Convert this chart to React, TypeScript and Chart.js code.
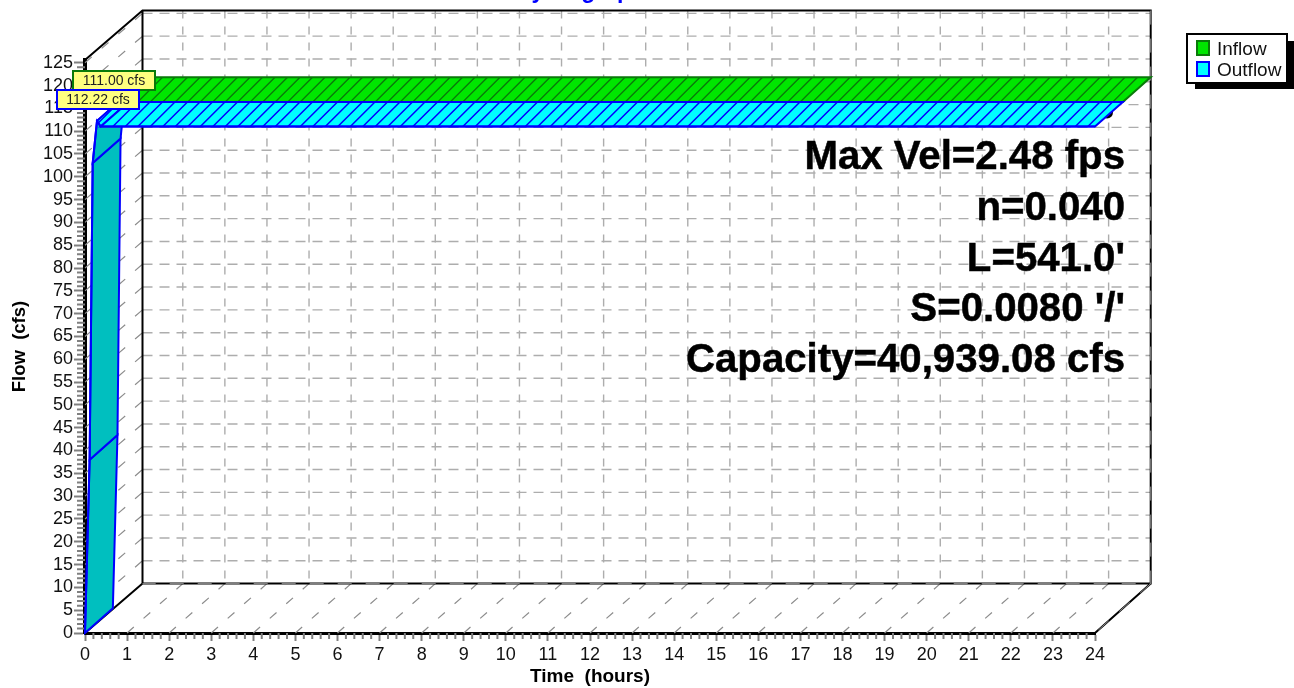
import React, { useEffect, useRef } from "react";
import { Chart, registerables } from "chart.js";

Chart.register(...registerables);

const inflowTimes = [0, 24];
const inflowValues = [111, 111];
const outflowTimes = [0, 0.11, 0.183, 0.285, 0.373, 24];
const outflowValues = [0, 38, 103, 112.22, 111, 111];
const notes = ["Max Vel=2.48 fps", "n=0.040", "L=541.0'", "S=0.0080 '/'", "Capacity=40,939.08 cfs"];
const peakLabels = ["111.00 cfs", "112.22 cfs"];
const legendNames = ["Inflow", "Outflow"];
const titleText = "Hydrograph";

const FONT = '"Liberation Sans", Arial, sans-serif';
const DX = 55.7;
const DY = -49.4;
const GRID = "#adadad";
const BLUE = "#0000ff";
const DKGREEN = "#0a7a0a";
const GREEN = "#00e600";
const CYAN = "#00ffff";
const TEAL = "#00bfbf";

const depths: Record<number, number> = { 0: 0.5, 1: 0 };

function tracePoly(ctx: CanvasRenderingContext2D, poly: number[][]) {
  ctx.beginPath();
  poly.forEach((p, i) => (i ? ctx.lineTo(p[0], p[1]) : ctx.moveTo(p[0], p[1])));
  ctx.closePath();
}

function hatchFill(ctx: CanvasRenderingContext2D, poly: number[][], fill: string, stroke: string) {
  ctx.save();
  tracePoly(ctx, poly);
  ctx.fillStyle = fill;
  ctx.fill();
  ctx.save();
  ctx.clip();
  const xs = poly.map((p) => p[0]);
  const ys = poly.map((p) => p[1]);
  const x0 = Math.min(...xs), x1 = Math.max(...xs), y0 = Math.min(...ys), y1 = Math.max(...ys);
  const h = y1 - y0;
  const step = 12.5;
  ctx.strokeStyle = stroke;
  ctx.lineWidth = 1.4;
  ctx.setLineDash([]);
  ctx.beginPath();
  for (let x = x0 - (x0 % step) - step - h; x < x1 + step; x += step) {
    ctx.moveTo(x, y1);
    ctx.lineTo(x + h, y0);
  }
  ctx.stroke();
  ctx.restore();
  tracePoly(ctx, poly);
  ctx.strokeStyle = stroke;
  ctx.lineWidth = 2;
  ctx.stroke();
  ctx.restore();
}

const chart3d = {
  id: "chart3d",
  beforeDatasetsDraw(chart: any) {
    const { ctx, scales } = chart;
    const xs = scales.x, ys = scales.y;
    const left = xs.getPixelForValue(0), right = xs.getPixelForValue(24);
    const bottom = ys.getPixelForValue(0), top = ys.getPixelForValue(ys.max);
    const backLeft = left + 57.5;
    const backRight = right + DX;
    const backBottom = bottom + DY;
    const backTop = top + DY;
    ctx.save();
    ctx.lineWidth = 1.4;
    ctx.strokeStyle = GRID;
    ctx.setLineDash([10, 7]);
    ctx.beginPath();
    for (let v = 5; v <= 125; v += 5) {
      const y = ys.getPixelForValue(v);
      ctx.moveTo(backLeft, y + DY);
      ctx.lineTo(backRight, y + DY);
    }
    ctx.stroke();
    ctx.setLineDash([8, 8]);
    ctx.beginPath();
    for (let t = 1; t <= 23; t++) {
      const x = xs.getPixelForValue(t) + DX;
      ctx.moveTo(x, backTop);
      ctx.lineTo(x, backBottom);
    }
    ctx.stroke();
    ctx.lineWidth = 1.2;
    ctx.strokeStyle = "#8c8c8c";
    ctx.setLineDash([9, 13]);
    ctx.beginPath();
    for (let v = 5; v <= 125; v += 5) {
      const y = ys.getPixelForValue(v);
      ctx.moveTo(left, y);
      ctx.lineTo(backLeft, y + DY);
    }
    for (let t = 1; t <= 23; t++) {
      const x = xs.getPixelForValue(t);
      ctx.moveTo(x, bottom);
      ctx.lineTo(x + DX, backBottom);
    }
    ctx.stroke();
    ctx.setLineDash([]);
    ctx.strokeStyle = "#000";
    ctx.lineWidth = 2;
    ctx.beginPath();
    ctx.moveTo(left, top);
    ctx.lineTo(backLeft, backTop);
    ctx.lineTo(backRight, backTop);
    ctx.lineTo(backRight, backBottom);
    ctx.lineTo(backLeft, backBottom);
    ctx.lineTo(left, bottom);
    ctx.moveTo(backLeft, backTop);
    ctx.lineTo(backLeft, backBottom);
    ctx.moveTo(backRight, backBottom);
    ctx.lineTo(right, bottom);
    ctx.stroke();
    ctx.strokeStyle = "#8c8c8c";
    ctx.lineWidth = 1;
    ctx.setLineDash([14, 14]);
    ctx.beginPath();
    ctx.moveTo(backRight, backTop);
    ctx.lineTo(backRight, backBottom);
    ctx.lineTo(backLeft, backBottom);
    ctx.moveTo(backRight, backBottom);
    ctx.lineTo(right, bottom);
    ctx.stroke();
    ctx.setLineDash([]);
    // small round mark behind the right end of the outflow ribbon
    ctx.fillStyle = "#000";
    ctx.beginPath();
    ctx.arc(right + 12, ys.getPixelForValue(111) - 14, 6, 0, Math.PI * 2);
    ctx.fill();

    // minor ticks
    ctx.strokeStyle = "#808080";
    ctx.lineWidth = 2;
    ctx.beginPath();
    for (let v = 0; v <= 125; v++) {
      if (v % 5 === 0) continue;
      const y = ys.getPixelForValue(v);
      ctx.moveTo(left - 8, y);
      ctx.lineTo(left, y);
    }
    for (let i = 0; i <= 120; i++) {
      if (i % 5 === 0) continue;
      const x = xs.getPixelForValue(i / 5);
      ctx.moveTo(x, bottom);
      ctx.lineTo(x, bottom + 6);
    }
    ctx.stroke();
    ctx.restore();
  },
  beforeDatasetDraw(chart: any, args: any) {
    const { ctx, scales } = chart;
    const xs = scales.x, ys = scales.y;
    const ds = chart.data.datasets[args.index];
    const d = depths[args.index];
    const ox = DX * d, oy = DY * d;
    // each ribbon is half of the box deep
    const rx = DX * 0.5, ry = DY * 0.5;
    const pts = ds.data.map((p: any) => [xs.getPixelForValue(p.x) + ox, ys.getPixelForValue(p.y) + oy]);
    ctx.save();
    for (let i = 0; i < pts.length - 1; i++) {
      const a = pts[i], b = pts[i + 1];
      if (ds.data[i + 1].y > ds.data[i].y) {
        tracePoly(ctx, [a, b, [b[0] + rx, b[1] + ry], [a[0] + rx, a[1] + ry]]);
        ctx.fillStyle = TEAL;
        ctx.fill();
        ctx.strokeStyle = BLUE;
        ctx.lineWidth = 2;
        ctx.stroke();
      }
    }
    for (let i = 0; i < pts.length - 1; i++) {
      const a = pts[i], b = pts[i + 1];
      if (ds.data[i + 1].y <= ds.data[i].y) {
        const poly = [a, b, [b[0] + rx, b[1] + ry], [a[0] + rx, a[1] + ry]];
        hatchFill(ctx, poly, args.index === 0 ? GREEN : CYAN, args.index === 0 ? DKGREEN : BLUE);
      }
    }
    ctx.restore();
    ctx.save();
    ctx.translate(ox, oy);
  },
  afterDatasetDraw(chart: any) {
    chart.ctx.restore();
  },
  afterDraw(chart: any) {
    const { ctx, scales } = chart;
    const xs = scales.x;
    const mid = (xs.getPixelForValue(0) + xs.getPixelForValue(24)) / 2;
    ctx.save();
    // title, cut by the top edge
    ctx.fillStyle = BLUE;
    ctx.font = `bold 23px ${FONT}`;
    ctx.textAlign = "center";
    ctx.textBaseline = "alphabetic";
    ctx.fillText(titleText, mid - 10, -2);

    // notes
    ctx.fillStyle = "#000";
    ctx.strokeStyle = "#000";
    ctx.lineWidth = 0.5;
    ctx.font = `bold 40.2px ${FONT}`;
    ctx.textAlign = "right";
    notes.forEach((n, i) => {
      ctx.fillText(n, 1125, 169 + i * 50.75);
      ctx.strokeText(n, 1125, 169 + i * 50.75);
    });

    // peak callouts
    const boxes = [
      { x: 73, y: 71, w: 82, h: 19, c: DKGREEN },
      { x: 57, y: 90, w: 82, h: 19, c: BLUE },
    ];
    ctx.font = `14px ${FONT}`;
    ctx.textAlign = "center";
    ctx.textBaseline = "middle";
    boxes.forEach((b, i) => {
      ctx.fillStyle = "#ffff80";
      ctx.fillRect(b.x, b.y, b.w, b.h);
      ctx.strokeStyle = b.c;
      ctx.lineWidth = 2;
      ctx.strokeRect(b.x, b.y, b.w, b.h);
      ctx.fillStyle = "#222";
      ctx.fillText(peakLabels[i], b.x + b.w / 2, b.y + b.h / 2 + 1);
    });

    // legend
    ctx.fillStyle = "#000";
    ctx.fillRect(1195, 41, 99, 48);
    ctx.fillStyle = "#fff";
    ctx.fillRect(1187, 34, 100, 49);
    ctx.strokeStyle = "#000";
    ctx.lineWidth = 2;
    ctx.strokeRect(1187, 34, 100, 49);
    const swatch = [
      { y: 41, f: GREEN, c: DKGREEN },
      { y: 62, f: CYAN, c: BLUE },
    ];
    ctx.font = `19px ${FONT}`;
    ctx.textAlign = "left";
    ctx.textBaseline = "alphabetic";
    swatch.forEach((s, i) => {
      ctx.fillStyle = s.f;
      ctx.fillRect(1197, s.y, 12, 14);
      ctx.strokeStyle = s.c;
      ctx.lineWidth = 2;
      ctx.strokeRect(1197, s.y, 12, 14);
      ctx.fillStyle = "#111";
      ctx.fillText(legendNames[i], 1217, s.y + 13.5);
    });
    ctx.restore();
  },
};

export default function App() {
  const ref = useRef<HTMLCanvasElement>(null);
  useEffect(() => {
    document.body.style.margin = "0";
    const chart = new Chart(ref.current as HTMLCanvasElement, {
      type: "line",
      data: {
        datasets: [
          {
            label: "Inflow",
            data: inflowTimes.map((t, i) => ({ x: t, y: inflowValues[i] })),
            borderColor: DKGREEN,
            borderWidth: 2,
            pointRadius: 0,
            clip: false,
            order: 1,
          },
          {
            label: "Outflow",
            data: outflowTimes.map((t, i) => ({ x: t, y: outflowValues[i] })),
            borderColor: BLUE,
            borderWidth: 2,
            pointRadius: 0,
            clip: false,
            order: 0,
          },
        ],
      },
      options: {
        animation: false,
        responsive: false,
        layout: { padding: { top: 60, right: 199, left: 0, bottom: 0 } },
        plugins: { legend: { display: false }, tooltip: { enabled: false } },
        scales: {
          x: {
            type: "linear",
            min: 0,
            max: 24,
            afterFit: (s: any) => { s.height = 55; },
            border: { color: "#000", width: 3 },
            grid: { drawOnChartArea: false, drawTicks: true, tickLength: 8, tickColor: "#808080", tickWidth: 2 },
            ticks: { stepSize: 1, autoSkip: false, maxRotation: 0, color: "#111", padding: 3, font: { family: FONT, size: 18 } },
            title: { display: true, text: "Time  (hours)", color: "#000", padding: { top: 0, bottom: 0 }, font: { family: FONT, size: 19, weight: "bold" } },
          },
          y: {
            type: "linear",
            min: 0,
            max: 125.6,
            afterFit: (s: any) => { s.width = 85; },
            border: { color: "#000", width: 4 },
            grid: { drawOnChartArea: false, drawTicks: true, tickLength: 11, tickColor: "#808080", tickWidth: 2 },
            ticks: { stepSize: 5, includeBounds: false, autoSkip: false, color: "#111", padding: 1, font: { family: FONT, size: 18 } },
            title: { display: true, text: "Flow  (cfs)", color: "#000", padding: { top: 9, bottom: 0 }, font: { family: FONT, size: 18.5, weight: "bold" } },
          },
        },
      },
      plugins: [chart3d],
    } as any);
    return () => chart.destroy();
  }, []);
  return (
    <div style={{ position: "absolute", left: 0, top: 0, width: 1294, height: 688 }}>
      <canvas ref={ref} width={1294} height={688} style={{ display: "block" }} />
    </div>
  );
}
